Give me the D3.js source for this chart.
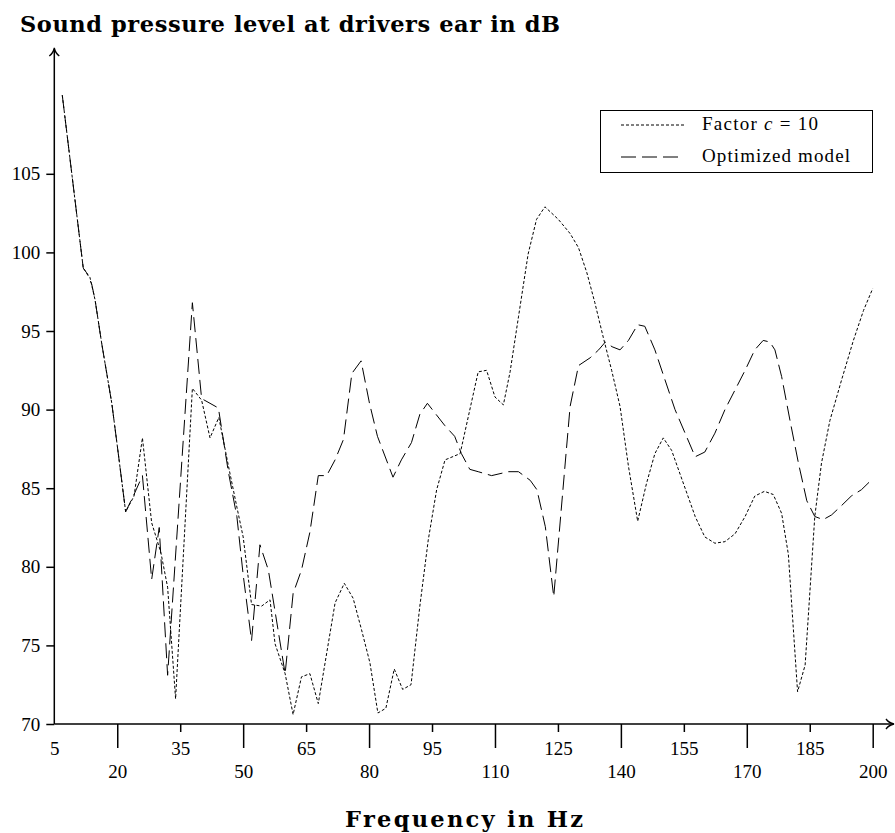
<!DOCTYPE html>
<html>
<head>
<meta charset="utf-8">
<script src="https://cdn.jsdelivr.net/npm/d3@7"></script>
<style>
  body { margin: 0; background: #fff; }
  svg { display: block; }
</style>
</head>
<body>
<svg></svg>
<script>
// Dimensions
var width = 895;
var height = 833;

// Factor c = 10 (short dashes)
var factorFreq = [6.9, 11.9, 13.5, 14.7, 16.3, 17.5, 18.7, 20.2, 22.0, 24.0, 26.0, 28.2, 30.4, 32.0, 33.9,
  37.9, 40.1, 42.1, 44.2, 46.5, 48.5, 50.0, 52.0, 54.4, 56.4, 57.6, 60.0, 61.9, 63.9, 65.9, 67.9,
  71.9, 74.1, 76.2, 78.2, 80.2, 82.1, 84.0, 86.0, 88.0, 90.0, 92.1, 94.1, 96.1, 98.1, 101.7, 106.0,
  108.0, 110.0, 112.0, 113.6, 115.6, 117.9, 119.9, 121.9, 125.1, 127.9, 129.9, 131.9, 133.8, 135.8,
  137.8, 139.8, 141.8, 144.0, 146.1, 148.1, 150.1, 152.1, 154.1, 157.7, 160.0, 162.4, 164.8, 167.2,
  169.6, 171.9, 174.2, 176.3, 178.3, 179.9, 182.1, 183.9, 186.2, 187.8, 189.8, 192.6, 195.4, 197.8, 200.0];
var factorLevel = [110.0, 99.0, 98.4, 97.0, 94.2, 92.3, 90.4, 87.3, 83.5, 84.5, 88.2, 82.8, 80.9, 78.7, 71.6,
  91.35, 90.6, 88.2, 89.5, 86.4, 83.8, 81.9, 77.6, 77.5, 77.9, 75.1, 73.2, 70.6, 73.0, 73.2, 71.3,
  77.7, 78.95, 78.0, 76.0, 73.9, 70.7, 71.0, 73.5, 72.2, 72.5, 77.5, 81.7, 84.9, 86.8, 87.2, 92.4,
  92.5, 90.8, 90.3, 92.4, 95.9, 99.9, 102.1, 102.9, 102.1, 101.2, 100.3, 98.7, 96.8, 94.6,
  92.5, 90.2, 86.4, 82.9, 85.3, 87.2, 88.2, 87.4, 85.9, 83.2, 81.9, 81.5, 81.6, 82.1,
  83.2, 84.5, 84.8, 84.6, 83.4, 80.8, 72.05, 73.75, 83.2, 86.6, 89.3, 91.9, 94.4, 96.3, 97.7];

// Optimized model (long dashes)
var optFreq = [6.9, 11.9, 12.7, 13.9, 14.7, 16.3, 17.5, 18.7, 20.2, 22.0, 24.0, 26.0, 28.2, 30.0, 32.0,
  37.9, 40.1, 42.1, 44.1, 46.5, 48.5, 50.0, 52.0, 54.0, 56.0, 60.0, 61.9, 63.9, 65.9, 67.9, 69.9,
  71.9, 73.9, 75.9, 78.1, 80.1, 82.0, 85.7, 87.7, 90.1, 92.1, 93.9, 98.0, 100.4, 102.0, 104.0, 106.0,
  109.2, 113.2, 115.6, 118.4, 120.0, 122.0, 124.0, 127.9, 129.9, 132.7, 134.7, 136.3, 137.9, 139.8,
  141.8, 144.0, 145.7, 148.1, 150.5, 152.9, 155.3, 157.7, 160.0, 162.4, 164.8, 167.2, 169.6, 171.9,
  173.9, 175.5, 176.7, 178.3, 180.3, 182.3, 184.3, 186.2, 188.2, 190.2, 192.6, 194.9, 197.3, 200.0];
var optLevel = [110.0, 99.0, 98.7, 98.0, 97.0, 94.2, 92.3, 90.4, 87.3, 83.5, 84.6, 85.8, 79.2, 82.5, 73.1,
  96.8, 90.7, 90.4, 90.1, 86.0, 83.2, 79.5, 75.3, 81.4, 79.8, 73.2, 78.3, 79.8, 82.2, 85.8, 85.8,
  86.8, 88.1, 92.3, 93.1, 90.4, 88.3, 85.7, 86.8, 87.9, 89.7, 90.4, 89.0, 88.3, 87.2, 86.2, 86.05,
  85.8, 86.05, 86.05, 85.5, 84.9, 82.55, 78.1, 90.2, 92.8, 93.3, 93.8, 94.3, 94.0, 93.8,
  94.4, 95.4, 95.3, 93.8, 91.9, 90.0, 88.5, 87.0, 87.3, 88.5, 90.0, 91.25, 92.5, 93.8,
  94.4, 94.3, 93.8, 92.1, 89.3, 86.6, 84.2, 83.2, 83.0, 83.3, 83.9, 84.5, 84.9, 85.6];

// Tick values
var xMajorTicks = [20, 50, 80, 110, 140, 170, 200];
var xMinorTicks = [5, 35, 65, 95, 125, 155, 185];
var yTicks = [70, 75, 80, 85, 90, 95, 100, 105];

var serif = "'Liberation Serif', 'Times New Roman', serif";
var wideSerif = "'DejaVu Serif', serif";

var svg = d3.select('svg')
  .attr('width', width)
  .attr('height', height);

// Scales
var x = d3.scaleLinear()
  .domain([5, 200])
  .range([54.3, 872.7]);

var y = d3.scaleLinear()
  .domain([70, 105])
  .range([724, 173.8]);

var x0 = x(5);
var y0 = y(70);

// X axis, long ticks with the lower labels
var xMajor = svg.append('g')
  .attr('transform', 'translate(0,' + y0 + ')')
  .call(d3.axisBottom(x).tickValues(xMajorTicks).tickSize(24).tickFormat(d3.format('d')));

xMajor.selectAll('text')
  .attr('y', 54)
  .attr('dy', 0);

// X axis, short ticks with the upper labels
var xMinor = svg.append('g')
  .attr('transform', 'translate(0,' + y0 + ')')
  .call(d3.axisBottom(x).tickValues(xMinorTicks).tickSize(8).tickFormat(d3.format('d')));

xMinor.selectAll('text')
  .attr('y', 31)
  .attr('dy', 0);

// no tick mark at the origin
xMinor.selectAll('.tick line')
  .filter(function (d) { return d === 5; })
  .remove();

// Y axis
var yAxis = svg.append('g')
  .attr('transform', 'translate(' + x0 + ',0)')
  .call(d3.axisLeft(y).tickValues(yTicks).tickSize(8).tickPadding(6).tickFormat(d3.format('d')));

svg.selectAll('.domain').remove();

svg.selectAll('.tick line')
  .attr('stroke', '#000')
  .attr('stroke-width', 1.5);

svg.selectAll('.tick text')
  .attr('fill', '#000')
  .style('font-family', serif)
  .style('font-size', '19px');

// Axis lines with arrows
svg.append('line')
  .attr('x1', x0).attr('y1', y0)
  .attr('x2', 893).attr('y2', y0)
  .attr('stroke', '#000')
  .attr('stroke-width', 1.5);

svg.append('path')
  .attr('d', 'M886,719 Q889,723 894,724 Q889,725 886,729')
  .attr('fill', 'none')
  .attr('stroke', '#000')
  .attr('stroke-width', 1.3);

svg.append('line')
  .attr('x1', x0).attr('y1', y0)
  .attr('x2', x0).attr('y2', 49)
  .attr('stroke', '#000')
  .attr('stroke-width', 1.5);

svg.append('path')
  .attr('d', 'M' + (x0 - 5) + ',56 Q' + (x0 - 1) + ',53 ' + x0 + ',48 Q' + (x0 + 1) + ',53 ' + (x0 + 5) + ',56')
  .attr('fill', 'none')
  .attr('stroke', '#000')
  .attr('stroke-width', 1.3);

// Data lines
var factorData = factorFreq.map(function (f, i) { return { f: f, v: factorLevel[i] }; });
var optData = optFreq.map(function (f, i) { return { f: f, v: optLevel[i] }; });

var line = d3.line()
  .x(function (d) { return x(d.f); })
  .y(function (d) { return y(d.v); });

svg.append('path')
  .datum(factorData)
  .attr('d', line)
  .attr('fill', 'none')
  .attr('stroke', '#000')
  .attr('stroke-width', 1)
  .attr('stroke-dasharray', '3,2');

svg.append('path')
  .datum(optData)
  .attr('d', line)
  .attr('fill', 'none')
  .attr('stroke', '#000')
  .attr('stroke-width', 1)
  .attr('stroke-dasharray', '15,6');

// Legend
var legend = svg.append('g');

legend.append('rect')
  .attr('x', 600.5).attr('y', 110.5)
  .attr('width', 272).attr('height', 62)
  .attr('fill', '#fff')
  .attr('stroke', '#000')
  .attr('stroke-width', 1);

legend.append('line')
  .attr('x1', 621).attr('y1', 125)
  .attr('x2', 684).attr('y2', 125)
  .attr('stroke', '#000')
  .attr('stroke-dasharray', '3,2');

legend.append('line')
  .attr('x1', 621).attr('y1', 157)
  .attr('x2', 684).attr('y2', 157)
  .attr('stroke', '#000')
  .attr('stroke-dasharray', '15,6');

var factorLabel = legend.append('text')
  .attr('x', 702).attr('y', 130)
  .attr('textLength', 116)
  .attr('lengthAdjust', 'spacing')
  .style('font-family', serif)
  .style('font-size', '19px');
factorLabel.append('tspan').text('Factor ');
factorLabel.append('tspan').style('font-style', 'italic').text('c');
factorLabel.append('tspan').text(' = 10');

legend.append('text')
  .attr('x', 702).attr('y', 162)
  .attr('textLength', 148)
  .attr('lengthAdjust', 'spacing')
  .style('font-family', serif)
  .style('font-size', '19px')
  .text('Optimized model');

// Titles
svg.append('text')
  .attr('x', 20).attr('y', 32)
  .attr('textLength', 540)
  .attr('lengthAdjust', 'spacing')
  .style('font-family', wideSerif)
  .style('font-weight', 'bold')
  .style('font-size', '22.5px')
  .text('Sound pressure level at drivers ear in dB');

svg.append('text')
  .attr('x', 345).attr('y', 827)
  .attr('textLength', 238)
  .attr('lengthAdjust', 'spacing')
  .style('font-family', wideSerif)
  .style('font-weight', 'bold')
  .style('font-size', '22.5px')
  .text('Frequency in Hz');
</script>
</body>
</html>
